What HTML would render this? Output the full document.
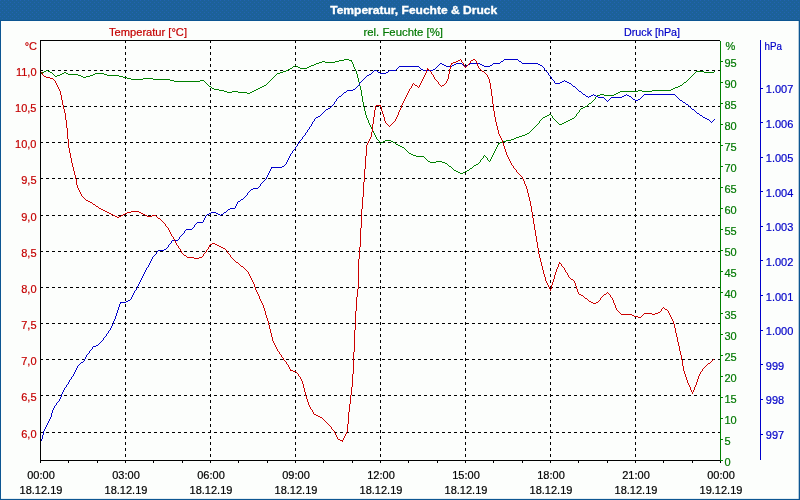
<!DOCTYPE html>
<html><head><meta charset="utf-8"><title>Temperatur, Feuchte &amp; Druck</title>
<style>
html,body{margin:0;padding:0;background:#fcfefc;}
body{width:800px;height:500px;overflow:hidden;}
svg{display:block;}
text{font-family:"Liberation Sans",sans-serif;font-size:11px;}
text{stroke-width:0.2px;}
.r{fill:#c40000;stroke:#c40000}.g{fill:#007800;stroke:#007800}.b{fill:#0000c8;stroke:#0000c8}.k{fill:#000;stroke:#000}
</style></head><body>
<svg width="800" height="500" viewBox="0 0 800 500">
<defs><pattern id="dz" width="4" height="4" patternUnits="userSpaceOnUse"><rect width="4" height="4" fill="#1c6199"/><rect x="0" y="0" width="1" height="1" fill="#2263b2"/><rect x="2" y="2" width="1" height="1" fill="#2263b2"/></pattern></defs>
<rect x="0" y="0" width="800" height="500" fill="#0d5692"/>
<rect x="0" y="0" width="800" height="20" fill="url(#dz)"/>
<rect x="1" y="21" width="797.7" height="477.9" fill="#fcfefc"/>
<text x="330.2" y="14" fill="#fff" stroke="#fff" style="stroke-width:0.35px" font-weight="bold" textLength="167" lengthAdjust="spacingAndGlyphs">Temperatur, Feuchte &amp; Druck</text>
<g stroke="#000" stroke-width="1" stroke-dasharray="3 3" shape-rendering="crispEdges" fill="none">
<line x1="40" y1="70.5" x2="720" y2="70.5"/>
<line x1="40" y1="106.5" x2="720" y2="106.5"/>
<line x1="40" y1="142.5" x2="720" y2="142.5"/>
<line x1="40" y1="178.5" x2="720" y2="178.5"/>
<line x1="40" y1="215.5" x2="720" y2="215.5"/>
<line x1="40" y1="251.5" x2="720" y2="251.5"/>
<line x1="40" y1="287.5" x2="720" y2="287.5"/>
<line x1="40" y1="323.5" x2="720" y2="323.5"/>
<line x1="40" y1="359.5" x2="720" y2="359.5"/>
<line x1="40" y1="395.5" x2="720" y2="395.5"/>
<line x1="40" y1="432.5" x2="720" y2="432.5"/>
<line x1="125.5" y1="40" x2="125.5" y2="460"/>
<line x1="210.5" y1="40" x2="210.5" y2="460"/>
<line x1="295.5" y1="40" x2="295.5" y2="460"/>
<line x1="380.5" y1="40" x2="380.5" y2="460"/>
<line x1="465.5" y1="40" x2="465.5" y2="460"/>
<line x1="550.5" y1="40" x2="550.5" y2="460"/>
<line x1="635.5" y1="40" x2="635.5" y2="460"/>
</g>
<g stroke="none" shape-rendering="crispEdges">
<path fill="#008000" d="M40 73h2v1h-2zM42 72h2v1h-2zM44 71h2v1h-2zM46 70h2v1h-2zM48 71h2v1h-2zM50 72h2v1h-2zM52 73h1v1h-1zM53 74h1v1h-1zM54 75h1v1h-1zM55 76h2v1h-2zM57 75h3v1h-3zM60 74h2v1h-2zM62 73h2v1h-2zM64 72h2v1h-2zM66 73h2v1h-2zM68 74h10v1h-10zM78 75h3v1h-3zM81 76h2v1h-2zM83 77h3v1h-3zM86 76h4v1h-4zM90 75h3v1h-3zM93 74h2v1h-2zM95 73h9v1h-9zM104 74h3v1h-3zM107 75h12v1h-12zM119 76h4v1h-4zM123 77h4v1h-4zM127 78h4v1h-4zM131 79h12v1h-12zM143 78h10v1h-10zM153 79h17v1h-17zM170 80h4v1h-4zM174 81h26v1h-26zM200 80h4v1h-4zM204 81h1v1h-1zM205 82h1v1h-1zM206 83h1v1h-1zM207 84h1v1h-1zM208 85h1v1h-1zM209 86h2v1h-2zM211 87h1v1h-1zM212 88h2v1h-2zM214 89h5v1h-5zM219 90h5v1h-5zM224 91h3v1h-3zM227 92h5v1h-5zM232 91h6v1h-6zM238 92h9v1h-9zM247 93h3v1h-3zM250 92h2v1h-2zM252 91h2v1h-2zM254 90h2v1h-2zM256 89h2v1h-2zM258 88h2v1h-2zM260 87h2v1h-2zM262 86h2v1h-2zM264 85h2v1h-2zM266 84h1v1h-1zM267 83h1v1h-1zM268 82h1v1h-1zM269 81h1v1h-1zM270 80h1v1h-1zM271 79h1v1h-1zM272 78h1v1h-1zM273 77h1v1h-1zM274 76h1v1h-1zM275 75h1v1h-1zM276 74h1v1h-1zM277 73h3v1h-3zM280 72h3v1h-3zM283 71h3v1h-3zM286 70h2v1h-2zM288 69h2v1h-2zM290 68h2v1h-2zM292 67h1v1h-1zM293 66h2v1h-2zM295 65h1v1h-1zM296 66h2v1h-2zM298 67h2v1h-2zM300 68h7v1h-7zM307 67h2v1h-2zM309 66h2v1h-2zM311 65h3v1h-3zM314 64h2v1h-2zM316 63h3v1h-3zM319 62h3v1h-3zM322 61h3v1h-3zM325 62h10v1h-10zM335 61h4v1h-4zM339 60h5v1h-5zM344 59h5v1h-5zM349 60h3v1h-3zM351 61h1v1h-1zM352 62h1v2h-1zM353 64h1v3h-1zM354 67h1v2h-1zM355 69h1v2h-1zM356 71h1v3h-1zM357 74h1v4h-1zM358 78h1v4h-1zM359 82h1v4h-1zM360 86h1v4h-1zM361 90h1v6h-1zM362 96h1v6h-1zM363 102h1v5h-1zM364 107h1v4h-1zM365 111h1v4h-1zM366 115h1v3h-1zM367 118h1v2h-1zM368 120h1v3h-1zM369 123h1v2h-1zM370 125h1v2h-1zM371 127h1v2h-1zM372 129h1v2h-1zM373 131h1v2h-1zM374 133h1v2h-1zM375 135h1v2h-1zM376 137h1v2h-1zM377 139h1v1h-1zM378 140h1v1h-1zM379 141h1v2h-1zM380 143h1v1h-1zM381 142h2v1h-2zM383 141h2v1h-2zM385 140h6v1h-6zM391 141h2v1h-2zM393 142h2v1h-2zM395 143h1v1h-1zM396 144h2v1h-2zM398 145h2v1h-2zM400 146h2v1h-2zM402 147h2v1h-2zM404 148h1v1h-1zM405 149h1v1h-1zM406 150h1v1h-1zM407 151h1v1h-1zM408 152h1v1h-1zM409 153h2v1h-2zM411 154h2v1h-2zM413 155h3v1h-3zM416 156h8v1h-8zM424 157h1v1h-1zM425 158h1v1h-1zM426 159h1v1h-1zM427 160h1v1h-1zM428 161h2v1h-2zM430 162h6v1h-6zM436 161h6v1h-6zM442 162h3v1h-3zM445 163h2v1h-2zM447 164h1v1h-1zM448 165h1v1h-1zM449 166h2v1h-2zM451 167h1v1h-1zM452 168h1v1h-1zM453 169h1v1h-1zM454 170h2v1h-2zM456 171h2v1h-2zM458 172h2v1h-2zM460 173h3v1h-3zM463 172h2v1h-2zM465 171h2v1h-2zM467 170h2v1h-2zM469 169h1v1h-1zM470 168h2v1h-2zM472 167h1v1h-1zM473 166h1v1h-1zM474 165h2v1h-2zM476 164h2v1h-2zM478 163h1v1h-1zM479 162h1v1h-1zM480 160h1v2h-1zM481 159h1v1h-1zM482 158h1v1h-1zM483 156h1v2h-1zM484 155h1v1h-1zM485 156h1v1h-1zM486 157h1v1h-1zM487 158h1v2h-1zM488 160h1v1h-1zM489 161h1v1h-1zM490 159h1v2h-1zM491 157h1v2h-1zM492 155h1v2h-1zM493 153h1v2h-1zM494 151h1v2h-1zM495 149h1v2h-1zM496 147h1v2h-1zM497 145h1v2h-1zM498 144h1v1h-1zM498 143h2v1h-2zM500 142h2v1h-2zM502 141h4v1h-4zM506 140h5v1h-5zM511 139h3v1h-3zM514 138h2v1h-2zM516 137h3v1h-3zM519 136h3v1h-3zM522 135h3v1h-3zM525 134h2v1h-2zM527 133h2v1h-2zM529 132h1v1h-1zM530 131h1v1h-1zM531 130h1v1h-1zM532 129h1v1h-1zM533 128h1v1h-1zM534 127h1v1h-1zM535 126h1v1h-1zM536 125h1v1h-1zM537 124h1v1h-1zM538 123h1v1h-1zM539 121h1v2h-1zM540 120h1v1h-1zM541 119h1v1h-1zM542 118h1v1h-1zM543 117h2v1h-2zM545 116h2v1h-2zM547 115h2v1h-2zM549 114h2v1h-2zM551 115h1v1h-1zM552 116h1v2h-1zM553 118h1v1h-1zM554 119h1v1h-1zM555 120h1v1h-1zM556 121h1v1h-1zM557 122h1v1h-1zM558 123h1v1h-1zM559 124h3v1h-3zM562 123h2v1h-2zM564 122h2v1h-2zM566 121h2v1h-2zM568 120h2v1h-2zM570 119h2v1h-2zM572 118h2v1h-2zM574 117h1v1h-1zM575 116h1v1h-1zM576 114h1v2h-1zM577 113h1v1h-1zM578 112h1v1h-1zM579 110h1v2h-1zM580 109h1v1h-1zM581 108h2v1h-2zM583 107h2v1h-2zM585 106h2v1h-2zM587 105h1v1h-1zM588 104h1v1h-1zM589 103h2v1h-2zM591 102h1v1h-1zM592 101h1v1h-1zM593 100h1v1h-1zM594 99h1v1h-1zM595 97h1v2h-1zM596 96h1v1h-1zM597 95h3v1h-3zM600 94h4v1h-4zM604 95h10v1h-10zM614 94h2v1h-2zM616 93h2v1h-2zM618 92h2v1h-2zM620 91h18v1h-18zM638 90h4v1h-4zM642 91h10v1h-10zM652 90h19v1h-19zM671 89h2v1h-2zM673 88h2v1h-2zM675 87h3v1h-3zM678 86h2v1h-2zM680 85h2v1h-2zM682 84h1v1h-1zM683 83h1v1h-1zM684 82h2v1h-2zM686 81h1v1h-1zM687 80h1v1h-1zM688 79h1v1h-1zM689 78h1v1h-1zM690 77h1v1h-1zM691 76h1v1h-1zM692 75h1v1h-1zM693 74h1v1h-1zM694 73h1v1h-1zM695 72h1v1h-1zM696 71h8v1h-8zM704 72h10v1h-10zM714 71h1v1h-1z"/>
<path fill="#0000cc" d="M41 439h1v2h-1zM42 435h1v4h-1zM43 431h1v4h-1zM44 429h1v2h-1zM45 427h1v2h-1zM46 425h1v2h-1zM47 423h1v2h-1zM48 421h1v2h-1zM49 419h1v2h-1zM50 417h1v2h-1zM51 413h1v4h-1zM52 410h1v3h-1zM53 408h1v2h-1zM54 406h1v2h-1zM55 405h1v1h-1zM56 403h1v2h-1zM57 402h1v1h-1zM58 401h1v1h-1zM59 399h1v2h-1zM60 397h1v2h-1zM61 394h1v3h-1zM62 392h1v2h-1zM63 390h1v2h-1zM64 388h1v2h-1zM65 387h1v1h-1zM66 385h1v2h-1zM67 384h1v1h-1zM68 382h1v2h-1zM69 380h1v2h-1zM70 379h1v1h-1zM71 377h1v2h-1zM72 376h1v1h-1zM73 374h1v2h-1zM74 372h1v2h-1zM75 370h1v2h-1zM76 368h1v2h-1zM77 366h1v2h-1zM78 365h1v1h-1zM79 364h1v1h-1zM80 363h1v1h-1zM81 362h2v1h-2zM83 361h1v1h-1zM84 359h1v2h-1zM85 357h1v2h-1zM86 355h1v2h-1zM87 354h1v1h-1zM88 353h1v1h-1zM89 351h1v2h-1zM90 350h1v1h-1zM91 349h1v1h-1zM92 347h1v2h-1zM93 346h3v1h-3zM96 345h2v1h-2zM98 344h1v1h-1zM99 343h1v1h-1zM100 342h1v1h-1zM101 341h1v1h-1zM102 340h1v1h-1zM103 338h1v2h-1zM104 337h1v1h-1zM105 336h1v1h-1zM106 334h1v2h-1zM107 333h1v1h-1zM108 331h1v2h-1zM109 330h1v1h-1zM110 328h1v2h-1zM111 326h1v2h-1zM112 324h1v2h-1zM113 321h1v3h-1zM114 319h1v2h-1zM115 316h1v3h-1zM116 313h1v3h-1zM117 310h1v3h-1zM118 307h1v3h-1zM119 304h1v3h-1zM120 303h1v1h-1zM120 302h6v1h-6zM126 301h2v1h-2zM128 300h2v1h-2zM130 299h1v1h-1zM131 297h1v2h-1zM132 295h1v2h-1zM133 293h1v2h-1zM134 291h1v2h-1zM135 290h1v1h-1zM136 288h1v2h-1zM137 286h1v2h-1zM138 284h1v2h-1zM139 282h1v2h-1zM140 280h1v2h-1zM141 278h1v2h-1zM142 276h1v2h-1zM143 274h1v2h-1zM144 272h1v2h-1zM145 270h1v2h-1zM146 268h1v2h-1zM147 267h1v1h-1zM148 265h1v2h-1zM149 263h1v2h-1zM150 261h1v2h-1zM151 259h1v2h-1zM152 257h1v2h-1zM153 256h1v1h-1zM154 255h1v1h-1zM155 254h1v1h-1zM156 252h1v2h-1zM157 251h1v1h-1zM158 250h6v1h-6zM164 249h2v1h-2zM166 248h1v1h-1zM167 247h1v1h-1zM168 245h1v2h-1zM169 244h1v1h-1zM170 243h1v1h-1zM171 241h1v2h-1zM172 240h6v1h-6zM178 239h1v1h-1zM179 237h1v2h-1zM180 236h1v1h-1zM181 235h1v1h-1zM182 234h1v1h-1zM183 233h1v1h-1zM184 231h1v2h-1zM185 230h1v1h-1zM186 229h6v1h-6zM192 228h1v1h-1zM193 227h1v1h-1zM194 225h1v2h-1zM195 224h1v1h-1zM196 223h1v1h-1zM197 222h6v1h-6zM203 220h1v2h-1zM204 218h1v2h-1zM205 216h1v2h-1zM206 215h1v1h-1zM207 214h2v1h-2zM209 213h2v1h-2zM211 212h5v1h-5zM216 213h2v1h-2zM218 214h2v1h-2zM220 215h1v1h-1zM221 214h2v1h-2zM223 213h1v1h-1zM224 212h2v1h-2zM226 211h1v1h-1zM227 210h1v1h-1zM228 209h2v1h-2zM230 208h5v1h-5zM235 206h1v2h-1zM236 204h1v2h-1zM237 202h1v2h-1zM238 201h2v1h-2zM240 200h1v1h-1zM241 199h2v1h-2zM243 198h1v1h-1zM244 197h1v1h-1zM245 196h1v1h-1zM246 195h1v1h-1zM247 193h1v2h-1zM248 192h1v1h-1zM249 191h1v1h-1zM250 190h1v1h-1zM251 189h2v1h-2zM253 188h5v1h-5zM258 187h1v1h-1zM259 186h1v1h-1zM260 184h1v2h-1zM261 183h1v1h-1zM262 182h1v1h-1zM263 181h1v1h-1zM264 180h1v1h-1zM265 179h1v1h-1zM266 177h1v2h-1zM267 175h1v2h-1zM268 173h1v2h-1zM269 171h1v2h-1zM270 169h1v2h-1zM271 168h1v1h-1zM271 167h11v1h-11zM282 166h2v1h-2zM284 165h1v1h-1zM285 164h1v1h-1zM286 162h1v2h-1zM287 160h1v2h-1zM288 158h1v2h-1zM289 156h1v2h-1zM290 154h1v2h-1zM291 153h1v1h-1zM292 151h1v2h-1zM293 150h1v1h-1zM294 149h1v1h-1zM295 147h1v2h-1zM296 146h1v1h-1zM297 144h1v2h-1zM298 143h1v1h-1zM299 141h1v2h-1zM300 140h1v1h-1zM301 139h1v1h-1zM302 137h1v2h-1zM303 136h1v1h-1zM304 135h1v1h-1zM305 133h1v2h-1zM306 132h1v1h-1zM307 130h1v2h-1zM308 129h1v1h-1zM309 127h1v2h-1zM310 126h1v1h-1zM311 124h1v2h-1zM312 122h1v2h-1zM313 121h1v1h-1zM314 119h1v2h-1zM315 118h1v1h-1zM316 117h2v1h-2zM318 116h2v1h-2zM320 115h1v1h-1zM321 114h1v1h-1zM322 113h1v1h-1zM323 112h1v1h-1zM324 111h1v1h-1zM325 110h1v1h-1zM326 109h2v1h-2zM328 108h2v1h-2zM330 107h1v1h-1zM331 106h1v1h-1zM332 105h1v1h-1zM333 104h1v1h-1zM334 102h1v2h-1zM335 101h1v1h-1zM336 99h1v2h-1zM337 98h1v1h-1zM338 97h1v1h-1zM339 96h2v1h-2zM341 95h1v1h-1zM342 94h1v1h-1zM343 93h1v1h-1zM344 92h2v1h-2zM346 91h1v1h-1zM347 90h6v1h-6zM353 89h2v1h-2zM355 88h1v1h-1zM356 87h1v1h-1zM357 86h1v1h-1zM358 85h1v1h-1zM359 83h1v2h-1zM360 82h1v1h-1zM361 81h1v1h-1zM362 80h1v1h-1zM363 79h1v1h-1zM364 78h1v1h-1zM365 77h1v1h-1zM366 76h1v1h-1zM367 75h2v1h-2zM369 74h2v1h-2zM371 73h1v1h-1zM372 72h1v1h-1zM373 71h1v1h-1zM374 70h3v1h-3zM377 71h1v1h-1zM378 72h2v1h-2zM380 73h6v1h-6zM386 72h2v1h-2zM388 71h1v1h-1zM389 70h7v1h-7zM396 69h1v1h-1zM397 68h1v1h-1zM398 67h1v1h-1zM399 66h20v1h-20zM419 67h1v1h-1zM420 68h1v1h-1zM421 69h2v1h-2zM423 70h10v1h-10zM433 69h2v1h-2zM435 68h1v1h-1zM436 67h1v1h-1zM437 66h1v1h-1zM438 65h1v1h-1zM439 64h1v1h-1zM440 63h2v1h-2zM442 64h2v1h-2zM444 65h2v1h-2zM446 66h6v1h-6zM452 65h2v1h-2zM454 64h2v1h-2zM456 63h6v1h-6zM462 64h1v1h-1zM463 65h2v1h-2zM465 66h1v1h-1zM466 65h2v1h-2zM468 64h2v1h-2zM470 63h10v1h-10zM480 64h2v1h-2zM482 65h2v1h-2zM484 66h6v1h-6zM490 65h2v1h-2zM492 64h1v1h-1zM493 63h7v1h-7zM500 62h1v1h-1zM501 61h2v1h-2zM503 60h1v1h-1zM504 59h14v1h-14zM518 60h1v1h-1zM519 61h2v1h-2zM521 62h1v1h-1zM522 63h16v1h-16zM538 64h2v1h-2zM540 65h2v1h-2zM542 66h1v1h-1zM543 67h1v1h-1zM544 68h1v2h-1zM545 70h1v1h-1zM546 71h1v1h-1zM547 72h1v1h-1zM548 73h1v2h-1zM549 75h1v1h-1zM550 76h1v1h-1zM551 77h1v2h-1zM552 79h1v1h-1zM553 80h1v1h-1zM554 81h1v2h-1zM555 83h5v1h-5zM560 82h2v1h-2zM562 81h2v1h-2zM564 80h1v1h-1zM565 81h2v1h-2zM567 82h2v1h-2zM569 83h2v1h-2zM571 84h1v1h-1zM572 85h1v1h-1zM573 86h2v1h-2zM575 87h1v1h-1zM576 88h1v1h-1zM577 89h1v1h-1zM578 90h1v1h-1zM579 91h2v1h-2zM581 92h1v1h-1zM582 93h1v1h-1zM583 94h2v1h-2zM585 95h1v1h-1zM586 96h2v1h-2zM588 97h1v1h-1zM589 96h2v1h-2zM591 95h2v1h-2zM593 94h1v1h-1zM594 95h2v1h-2zM596 96h2v1h-2zM598 97h6v1h-6zM604 98h1v1h-1zM605 99h1v1h-1zM606 100h1v1h-1zM607 101h1v1h-1zM608 100h1v1h-1zM609 99h1v1h-1zM610 98h1v1h-1zM611 97h11v1h-11zM622 96h2v1h-2zM624 95h2v1h-2zM626 94h1v1h-1zM627 95h2v1h-2zM629 96h2v1h-2zM631 97h1v1h-1zM632 98h1v1h-1zM633 99h2v1h-2zM635 100h3v1h-3zM638 99h2v1h-2zM640 98h1v1h-1zM641 97h1v1h-1zM642 96h1v1h-1zM643 95h1v1h-1zM644 94h31v1h-31zM675 95h1v1h-1zM676 96h1v1h-1zM677 97h1v1h-1zM678 98h1v1h-1zM679 99h1v1h-1zM680 100h2v1h-2zM682 101h1v1h-1zM683 102h2v1h-2zM685 103h1v1h-1zM686 104h2v1h-2zM688 105h1v1h-1zM689 106h1v1h-1zM690 107h1v1h-1zM691 108h1v1h-1zM692 109h2v1h-2zM694 110h1v1h-1zM695 111h1v1h-1zM696 112h1v1h-1zM697 113h2v1h-2zM699 114h1v1h-1zM700 115h2v1h-2zM702 116h1v1h-1zM703 117h2v1h-2zM705 118h2v1h-2zM707 119h2v1h-2zM709 120h1v1h-1zM710 121h1v1h-1zM711 122h1v1h-1zM712 121h1v1h-1zM713 120h1v1h-1zM714 119h1v1h-1z"/>
<path fill="#cc0000" d="M40 71h1v1h-1zM41 72h1v1h-1zM42 73h1v2h-1zM43 75h1v1h-1zM44 76h2v1h-2zM46 77h4v1h-4zM50 78h3v1h-3zM53 79h1v1h-1zM54 80h1v1h-1zM55 81h1v2h-1zM56 83h1v2h-1zM57 85h1v2h-1zM58 87h1v2h-1zM59 89h1v2h-1zM60 91h1v4h-1zM61 95h1v5h-1zM62 100h1v5h-1zM63 105h1v4h-1zM64 109h1v4h-1zM65 113h1v7h-1zM66 120h1v8h-1zM67 128h1v11h-1zM68 139h1v9h-1zM69 148h1v5h-1zM70 153h1v5h-1zM71 158h1v5h-1zM72 163h1v4h-1zM73 167h1v4h-1zM74 171h1v4h-1zM75 175h1v4h-1zM76 179h1v6h-1zM77 185h1v3h-1zM78 188h1v2h-1zM79 190h1v2h-1zM80 192h1v2h-1zM81 194h1v2h-1zM82 196h1v1h-1zM83 197h1v1h-1zM84 198h1v1h-1zM85 199h1v1h-1zM86 200h2v1h-2zM88 201h2v1h-2zM90 202h2v1h-2zM92 203h1v1h-1zM93 204h2v1h-2zM95 205h1v1h-1zM96 206h2v1h-2zM98 207h1v1h-1zM99 208h2v1h-2zM101 209h2v1h-2zM103 210h2v1h-2zM105 211h2v1h-2zM107 212h2v1h-2zM109 213h2v1h-2zM111 214h2v1h-2zM113 215h2v1h-2zM115 216h2v1h-2zM117 217h2v1h-2zM119 216h2v1h-2zM121 215h2v1h-2zM123 214h2v1h-2zM125 213h2v1h-2zM127 212h4v1h-4zM131 211h8v1h-8zM139 212h2v1h-2zM141 213h2v1h-2zM143 214h2v1h-2zM145 215h2v1h-2zM147 216h5v1h-5zM152 215h4v1h-4zM156 216h1v1h-1zM157 217h1v1h-1zM158 218h2v1h-2zM160 219h1v1h-1zM161 220h1v1h-1zM162 221h1v1h-1zM163 222h1v1h-1zM164 223h1v1h-1zM165 224h1v2h-1zM166 226h1v1h-1zM167 227h1v1h-1zM168 228h1v2h-1zM169 230h1v2h-1zM170 232h1v2h-1zM171 234h1v2h-1zM172 236h1v1h-1zM173 237h1v2h-1zM174 239h1v2h-1zM175 241h1v2h-1zM176 243h1v2h-1zM177 245h1v1h-1zM178 246h1v2h-1zM179 248h1v1h-1zM180 249h1v2h-1zM181 251h1v2h-1zM182 253h1v1h-1zM183 254h1v1h-1zM184 255h2v1h-2zM186 256h1v1h-1zM187 257h7v1h-7zM194 258h5v1h-5zM199 257h3v1h-3zM202 256h1v1h-1zM203 254h1v2h-1zM204 253h1v1h-1zM205 252h1v1h-1zM206 250h1v2h-1zM207 249h1v1h-1zM208 247h1v2h-1zM209 245h1v2h-1zM210 244h2v1h-2zM212 243h3v1h-3zM215 244h2v1h-2zM217 245h2v1h-2zM219 246h2v1h-2zM221 247h2v1h-2zM223 248h2v1h-2zM225 249h1v1h-1zM226 250h1v1h-1zM227 251h1v2h-1zM228 253h1v1h-1zM229 254h1v1h-1zM230 255h1v2h-1zM231 257h1v1h-1zM232 258h1v1h-1zM233 259h1v1h-1zM234 260h1v1h-1zM235 261h1v1h-1zM236 262h2v1h-2zM238 263h1v1h-1zM239 264h1v1h-1zM240 265h1v1h-1zM241 266h2v1h-2zM243 267h1v1h-1zM244 268h1v1h-1zM245 269h1v1h-1zM246 270h1v1h-1zM247 271h1v1h-1zM248 272h1v2h-1zM249 274h1v2h-1zM250 276h1v2h-1zM251 278h1v2h-1zM252 280h1v2h-1zM253 282h1v2h-1zM254 284h1v3h-1zM255 287h1v3h-1zM256 290h1v2h-1zM257 292h1v2h-1zM258 294h1v2h-1zM259 296h1v3h-1zM260 299h1v2h-1zM261 301h1v2h-1zM262 303h1v2h-1zM263 305h1v3h-1zM264 308h1v3h-1zM265 311h1v4h-1zM266 315h1v3h-1zM267 318h1v3h-1zM268 321h1v4h-1zM269 325h1v4h-1zM270 329h1v4h-1zM271 333h1v4h-1zM272 337h1v4h-1zM273 341h1v2h-1zM274 343h1v2h-1zM275 345h1v2h-1zM276 347h1v2h-1zM277 349h1v2h-1zM278 351h1v1h-1zM279 352h1v2h-1zM280 354h1v1h-1zM281 355h1v2h-1zM282 357h1v1h-1zM283 358h1v2h-1zM284 360h1v1h-1zM285 361h1v1h-1zM286 362h1v2h-1zM287 364h1v1h-1zM288 365h1v2h-1zM289 367h1v2h-1zM290 369h1v1h-1zM290 370h3v1h-3zM293 371h3v1h-3zM296 372h1v1h-1zM297 373h1v1h-1zM298 374h1v2h-1zM299 376h1v1h-1zM300 377h1v2h-1zM301 379h1v2h-1zM302 381h1v3h-1zM303 384h1v4h-1zM304 388h1v4h-1zM305 392h1v4h-1zM306 396h1v3h-1zM307 399h1v3h-1zM308 402h1v3h-1zM309 405h1v2h-1zM310 407h1v2h-1zM311 409h1v1h-1zM312 410h1v2h-1zM313 412h1v2h-1zM314 414h2v1h-2zM316 415h2v1h-2zM318 416h2v1h-2zM320 417h2v1h-2zM322 418h1v1h-1zM323 419h1v1h-1zM324 420h1v1h-1zM325 421h1v1h-1zM326 422h1v1h-1zM327 423h1v1h-1zM328 424h1v1h-1zM329 425h1v1h-1zM330 426h1v1h-1zM331 427h1v2h-1zM332 429h1v1h-1zM333 430h1v1h-1zM334 431h1v2h-1zM335 433h1v2h-1zM336 435h1v2h-1zM337 437h1v2h-1zM338 439h2v1h-2zM340 440h3v1h-3zM342 441h1v1h-1zM343 438h1v2h-1zM344 436h1v2h-1zM345 434h1v2h-1zM346 432h1v2h-1zM347 424h1v8h-1zM348 412h1v12h-1zM349 404h1v8h-1zM350 395h1v9h-1zM351 387h1v8h-1zM352 374h1v13h-1zM353 352h1v22h-1zM354 330h1v22h-1zM355 311h1v19h-1zM356 297h1v14h-1zM357 289h1v8h-1zM358 259h1v30h-1zM359 247h1v12h-1zM360 228h1v19h-1zM361 209h1v19h-1zM362 197h1v12h-1zM363 182h1v15h-1zM364 169h1v13h-1zM365 156h1v13h-1zM366 145h1v11h-1zM367 143h1v2h-1zM368 141h1v2h-1zM369 139h1v2h-1zM370 137h1v2h-1zM371 132h1v5h-1zM372 124h1v8h-1zM373 117h1v7h-1zM374 110h1v7h-1zM375 106h1v4h-1zM376 105h5v1h-5zM380 106h1v1h-1zM381 107h1v4h-1zM382 111h1v3h-1zM383 114h1v3h-1zM384 117h1v4h-1zM385 121h1v2h-1zM386 123h1v1h-1zM387 124h1v1h-1zM388 125h1v1h-1zM389 126h1v1h-1zM390 125h1v1h-1zM391 124h1v1h-1zM392 123h1v1h-1zM393 122h1v1h-1zM394 121h1v1h-1zM395 119h1v2h-1zM396 117h1v2h-1zM397 115h1v2h-1zM398 112h1v3h-1zM399 110h1v2h-1zM400 108h1v2h-1zM401 105h1v3h-1zM402 103h1v2h-1zM403 101h1v2h-1zM404 99h1v2h-1zM405 97h1v2h-1zM406 95h1v2h-1zM407 93h1v2h-1zM408 91h1v2h-1zM409 89h1v2h-1zM410 88h1v1h-1zM411 86h1v2h-1zM412 84h1v2h-1zM413 83h1v1h-1zM414 84h1v1h-1zM415 85h2v1h-2zM417 86h1v1h-1zM418 87h1v1h-1zM419 85h1v2h-1zM420 83h1v2h-1zM421 81h1v2h-1zM422 79h1v2h-1zM423 77h1v2h-1zM424 75h1v2h-1zM425 73h1v2h-1zM426 70h1v3h-1zM427 68h1v1h-1zM427 69h2v1h-2zM429 70h1v1h-1zM430 71h1v1h-1zM431 72h1v2h-1zM432 74h1v1h-1zM433 75h1v2h-1zM434 77h1v2h-1zM435 79h1v1h-1zM436 80h1v1h-1zM437 81h1v1h-1zM438 82h1v2h-1zM439 84h1v1h-1zM440 85h1v1h-1zM441 86h1v1h-1zM442 85h2v1h-2zM444 84h1v1h-1zM445 83h1v1h-1zM446 81h1v2h-1zM447 79h1v2h-1zM448 74h1v5h-1zM449 69h1v5h-1zM450 65h1v4h-1zM451 64h1v1h-1zM451 63h2v1h-2zM453 62h3v1h-3zM456 61h2v1h-2zM458 60h2v1h-2zM460 59h1v1h-1zM461 60h1v2h-1zM462 62h1v1h-1zM463 63h1v2h-1zM464 65h1v2h-1zM465 67h1v1h-1zM466 66h1v1h-1zM467 65h1v1h-1zM468 64h1v1h-1zM469 63h1v1h-1zM470 61h1v2h-1zM471 60h2v1h-2zM473 59h2v1h-2zM475 60h1v1h-1zM476 61h1v2h-1zM477 63h1v3h-1zM478 66h1v2h-1zM479 68h1v1h-1zM480 69h1v1h-1zM481 70h1v1h-1zM482 71h2v1h-2zM484 72h1v1h-1zM485 73h1v1h-1zM486 74h1v1h-1zM487 75h1v2h-1zM488 77h1v2h-1zM489 79h1v4h-1zM490 83h1v6h-1zM491 89h1v7h-1zM492 96h1v8h-1zM493 104h1v7h-1zM494 111h1v6h-1zM495 117h1v5h-1zM496 122h1v4h-1zM497 126h1v4h-1zM498 130h1v4h-1zM499 134h1v2h-1zM500 136h1v2h-1zM501 138h1v2h-1zM502 140h1v3h-1zM503 143h1v3h-1zM504 146h1v3h-1zM505 149h1v3h-1zM506 152h1v3h-1zM507 155h1v2h-1zM508 157h1v2h-1zM509 159h1v2h-1zM510 161h1v2h-1zM511 163h1v2h-1zM512 165h1v1h-1zM513 166h1v2h-1zM514 168h1v1h-1zM515 169h1v1h-1zM516 170h1v2h-1zM517 172h1v1h-1zM518 173h1v1h-1zM519 174h1v1h-1zM520 175h1v1h-1zM521 176h1v1h-1zM522 177h1v2h-1zM523 179h1v2h-1zM524 181h1v3h-1zM525 184h1v2h-1zM526 186h1v3h-1zM527 189h1v4h-1zM528 193h1v4h-1zM529 197h1v4h-1zM530 201h1v5h-1zM531 206h1v6h-1zM532 212h1v6h-1zM533 218h1v6h-1zM534 224h1v6h-1zM535 230h1v6h-1zM536 236h1v6h-1zM537 242h1v6h-1zM538 248h1v6h-1zM539 254h1v4h-1zM540 258h1v4h-1zM541 262h1v4h-1zM542 266h1v4h-1zM543 270h1v4h-1zM544 274h1v3h-1zM545 277h1v4h-1zM546 281h1v2h-1zM547 283h1v2h-1zM548 285h1v2h-1zM549 287h1v2h-1zM550 289h1v2h-1zM551 285h1v4h-1zM552 282h1v3h-1zM553 279h1v3h-1zM554 275h1v4h-1zM555 272h1v3h-1zM556 269h1v3h-1zM557 267h1v2h-1zM558 264h1v3h-1zM559 262h1v1h-1zM559 263h2v1h-2zM561 264h1v2h-1zM562 266h1v1h-1zM563 267h1v1h-1zM564 268h1v2h-1zM565 270h1v2h-1zM566 272h1v1h-1zM567 273h1v2h-1zM568 275h1v2h-1zM569 277h1v1h-1zM570 278h1v1h-1zM571 279h2v1h-2zM573 280h1v1h-1zM574 281h1v2h-1zM575 283h1v3h-1zM576 286h1v3h-1zM577 289h1v3h-1zM578 292h1v2h-1zM579 294h2v1h-2zM581 295h2v1h-2zM583 296h1v1h-1zM584 297h1v1h-1zM585 298h2v1h-2zM587 299h1v1h-1zM588 300h1v1h-1zM589 301h2v1h-2zM591 302h2v1h-2zM593 303h3v1h-3zM596 302h2v1h-2zM598 301h1v1h-1zM599 300h1v1h-1zM600 298h1v2h-1zM601 297h1v1h-1zM602 296h1v1h-1zM603 295h1v1h-1zM604 294h2v1h-2zM606 293h1v1h-1zM607 292h1v1h-1zM608 293h1v1h-1zM609 294h1v1h-1zM610 295h1v2h-1zM611 297h1v1h-1zM612 298h1v2h-1zM613 300h1v3h-1zM614 303h1v2h-1zM615 305h1v3h-1zM616 308h1v2h-1zM617 310h1v1h-1zM618 311h1v1h-1zM619 312h1v1h-1zM620 313h1v1h-1zM621 314h11v1h-11zM632 315h2v1h-2zM634 316h4v1h-4zM638 317h3v1h-3zM641 316h1v1h-1zM642 315h1v1h-1zM643 314h1v1h-1zM644 313h8v1h-8zM652 314h3v1h-3zM655 313h3v1h-3zM658 312h2v1h-2zM660 311h1v1h-1zM661 309h1v2h-1zM662 308h1v1h-1zM663 307h1v1h-1zM664 308h1v1h-1zM665 309h2v1h-2zM667 310h1v1h-1zM668 311h1v2h-1zM669 313h1v2h-1zM670 315h1v2h-1zM671 317h1v2h-1zM672 319h1v2h-1zM673 321h1v3h-1zM674 324h1v4h-1zM675 328h1v5h-1zM676 333h1v4h-1zM677 337h1v5h-1zM678 342h1v4h-1zM679 346h1v5h-1zM680 351h1v4h-1zM681 355h1v5h-1zM682 360h1v6h-1zM683 366h1v5h-1zM684 371h1v3h-1zM685 374h1v3h-1zM686 377h1v3h-1zM687 380h1v3h-1zM688 383h1v2h-1zM689 385h1v2h-1zM690 387h1v3h-1zM691 390h1v2h-1zM692 392h1v2h-1zM693 390h1v2h-1zM694 387h1v3h-1zM695 385h1v2h-1zM696 382h1v3h-1zM697 379h1v3h-1zM698 376h1v3h-1zM699 374h1v2h-1zM700 372h1v2h-1zM701 371h1v1h-1zM702 369h1v2h-1zM703 368h1v1h-1zM704 367h1v1h-1zM705 366h1v1h-1zM706 365h1v1h-1zM707 364h1v1h-1zM708 363h2v1h-2zM710 362h1v1h-1zM711 361h1v1h-1zM712 360h1v1h-1zM713 359h1v1h-1z"/>
</g>
<g shape-rendering="crispEdges" stroke-width="1" fill="none">
<path stroke="#000" d="M40.5 461V40.5H720"/>
<path stroke="#000" d="M40 460.5H721"/>
<path stroke="#000" d="M40.5 461V463M68.5 461V463M97.5 461V463M125.5 461V463M153.5 461V463M182.5 461V463M210.5 461V463M238.5 461V463M267.5 461V463M295.5 461V463M323.5 461V463M352.5 461V463M380.5 461V463M408.5 461V463M437.5 461V463M465.5 461V463M493.5 461V463M522.5 461V463M550.5 461V463M578.5 461V463M607.5 461V463M635.5 461V463M663.5 461V463M692.5 461V463M720.5 461V463"/>
<path stroke="#008000" d="M720.5 41V461"/>
<path stroke="#008000" d="M721 460.5H723M721 439.5H723M721 418.5H723M721 397.5H723M721 376.5H723M721 355.5H723M721 334.5H723M721 313.5H723M721 292.5H723M721 271.5H723M721 250.5H723M721 229.5H723M721 208.5H723M721 187.5H723M721 166.5H723M721 145.5H723M721 124.5H723M721 103.5H723M721 82.5H723M721 61.5H723"/>
<path stroke="#0000cc" d="M760.5 40V460"/>
<path stroke="#0000cc" d="M761 88.5H763M761 122.5H763M761 157.5H763M761 191.5H763M761 226.5H763M761 260.5H763M761 295.5H763M761 330.5H763M761 364.5H763M761 399.5H763M761 434.5H763"/>
</g>
<text x="109" y="35.5" class="r" textLength="78" lengthAdjust="spacingAndGlyphs">Temperatur [°C]</text>
<text x="363.5" y="35.5" class="g" textLength="79.5" lengthAdjust="spacingAndGlyphs">rel. Feuchte [%]</text>
<text x="624" y="35.5" class="b" textLength="56" lengthAdjust="spacingAndGlyphs">Druck [hPa]</text>
<text x="37" y="50" class="r" text-anchor="end">°C</text>
<text x="36.5" y="76.0" class="r" text-anchor="end">11,0</text>
<text x="36.5" y="112.0" class="r" text-anchor="end">10,5</text>
<text x="36.5" y="148.0" class="r" text-anchor="end">10,0</text>
<text x="36.5" y="184.0" class="r" text-anchor="end">9,5</text>
<text x="36.5" y="221.0" class="r" text-anchor="end">9,0</text>
<text x="36.5" y="257.0" class="r" text-anchor="end">8,5</text>
<text x="36.5" y="293.0" class="r" text-anchor="end">8,0</text>
<text x="36.5" y="329.0" class="r" text-anchor="end">7,5</text>
<text x="36.5" y="365.0" class="r" text-anchor="end">7,0</text>
<text x="36.5" y="401.0" class="r" text-anchor="end">6,5</text>
<text x="36.5" y="438.0" class="r" text-anchor="end">6,0</text>
<text x="725.4" y="50" class="g">%</text>
<text x="724.4" y="466" class="g">0</text>
<text x="724.4" y="445" class="g">5</text>
<text x="724.4" y="424" class="g">10</text>
<text x="724.4" y="403" class="g">15</text>
<text x="724.4" y="382" class="g">20</text>
<text x="724.4" y="361" class="g">25</text>
<text x="724.4" y="340" class="g">30</text>
<text x="724.4" y="319" class="g">35</text>
<text x="724.4" y="298" class="g">40</text>
<text x="724.4" y="277" class="g">45</text>
<text x="724.4" y="256" class="g">50</text>
<text x="724.4" y="235" class="g">55</text>
<text x="724.4" y="214" class="g">60</text>
<text x="724.4" y="193" class="g">65</text>
<text x="724.4" y="172" class="g">70</text>
<text x="724.4" y="151" class="g">75</text>
<text x="724.4" y="130" class="g">80</text>
<text x="724.4" y="109" class="g">85</text>
<text x="724.4" y="88" class="g">90</text>
<text x="724.4" y="67" class="g">95</text>
<text x="764.6" y="50" class="b" textLength="17.4" lengthAdjust="spacingAndGlyphs">hPa</text>
<text x="765.8" y="93.0" class="b">1.007</text>
<text x="765.8" y="127.6" class="b">1.006</text>
<text x="765.8" y="162.2" class="b">1.005</text>
<text x="765.8" y="196.8" class="b">1.004</text>
<text x="765.8" y="231.4" class="b">1.003</text>
<text x="765.8" y="266.0" class="b">1.002</text>
<text x="765.8" y="300.6" class="b">1.001</text>
<text x="765.8" y="335.2" class="b">1.000</text>
<text x="765.8" y="369.8" class="b">999</text>
<text x="765.8" y="404.4" class="b">998</text>
<text x="765.8" y="439.0" class="b">997</text>
<text x="41" y="479" class="k" text-anchor="middle">00:00</text>
<text x="41" y="494" class="k" text-anchor="middle">18.12.19</text>
<text x="126" y="479" class="k" text-anchor="middle">03:00</text>
<text x="126" y="494" class="k" text-anchor="middle">18.12.19</text>
<text x="211" y="479" class="k" text-anchor="middle">06:00</text>
<text x="211" y="494" class="k" text-anchor="middle">18.12.19</text>
<text x="296" y="479" class="k" text-anchor="middle">09:00</text>
<text x="296" y="494" class="k" text-anchor="middle">18.12.19</text>
<text x="381" y="479" class="k" text-anchor="middle">12:00</text>
<text x="381" y="494" class="k" text-anchor="middle">18.12.19</text>
<text x="466" y="479" class="k" text-anchor="middle">15:00</text>
<text x="466" y="494" class="k" text-anchor="middle">18.12.19</text>
<text x="551" y="479" class="k" text-anchor="middle">18:00</text>
<text x="551" y="494" class="k" text-anchor="middle">18.12.19</text>
<text x="636" y="479" class="k" text-anchor="middle">21:00</text>
<text x="636" y="494" class="k" text-anchor="middle">18.12.19</text>
<text x="721" y="479" class="k" text-anchor="middle">00:00</text>
<text x="721" y="494" class="k" text-anchor="middle">19.12.19</text>
</svg></body></html>
